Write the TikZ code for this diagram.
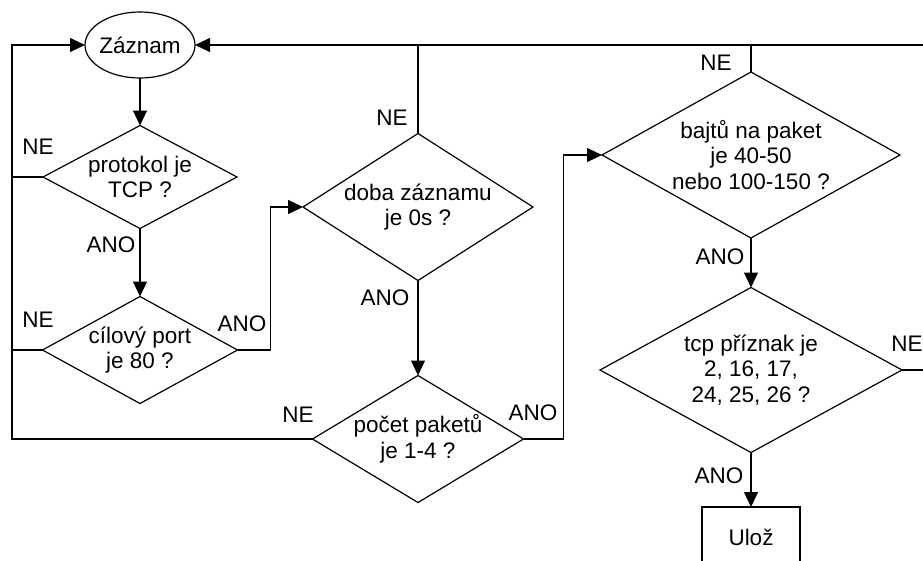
\documentclass[tikz,border=0pt]{standalone}
\usepackage{fontspec}
\setmainfont{Liberation Sans}
\usetikzlibrary{shapes.geometric,arrows.meta}
\begin{document}
\begin{tikzpicture}[x=1pt,y=-1pt, line width=1.2pt,
  font=\fontsize{22.5}{25.5}\selectfont,
  dec/.style={diamond, draw, aspect=1, inner sep=-20pt, outer sep=0pt, align=center},
  arr/.style={-{Triangle[length=15pt,width=14pt]}},
  lab/.style={inner sep=0pt, anchor=center}]
\useasboundingbox (0,0) rectangle (923,560);
\fill[white] (0,0) rectangle (923,560);
% nodes
\node[draw, ellipse, minimum width=110pt, minimum height=66pt, inner sep=-4pt, outer sep=0pt] (Z) at (140,45) {Záznam};
\node[dec, minimum width=194pt, minimum height=103pt] (D1) at (140,177) {protokol je\\TCP ?};
\node[dec, minimum width=195pt, minimum height=107pt] (D2) at (140,350) {cílový port\\je 80 ?};
\node[dec, minimum width=230pt, minimum height=147pt] (D3) at (418,207) {doba záznamu\\je 0s ?};
\node[dec, minimum width=211pt, minimum height=127pt] (D4) at (418,439) {počet paketů\\je 1-4 ?};
\node[dec, minimum width=298pt, minimum height=166pt] (D5) at (751,155) {bajtů na paket\\je 40-50\\nebo 100-150 ?};
\node[dec, minimum width=302pt, minimum height=165pt] (D6) at (751,370) {tcp příznak je\\2, 16, 17,\\24, 25, 26 ?};
\node[draw, rectangle, minimum width=98pt, minimum height=60pt, outer sep=0pt] (U) at (751,537) {Ulož};
\coordinate (L) at (12,45);
\coordinate (R) at (930,45);
% connectors
\draw[arr] (Z.south) -- (D1.north);
\draw[arr] (D1.south) -- (D2.north);
\draw[arr] (D2.east) -- ++(33,0) |- (D3.west);
\draw[arr] (D3.south) -- (D4.north);
\draw[arr] (D4.east) -- ++(40,0) |- (D5.west);
\draw[arr] (D5.south) -- (D6.north);
\draw[arr] (D6.south) -- (U.north);
\draw[arr] (D4.west) -- (D4.west -| L) -- (L) -- (Z.west);
\draw (D1.west) -- (D1.west -| L);
\draw (D2.west) -- (D2.west -| L);
\draw[arr] (D6.east) -- (D6.east -| R) -- (R) -- (Z.east);
\draw (D3.north) -- (D3.north |- R);
\draw (D5.north) -- (D5.north |- R);
% labels
\node[lab] (n1) at (38,147) {NE};
\node[lab] (a1) at (111,245) {ANO};
\node[lab] (n2) at (38,320) {NE};
\node[lab] (a2) at (242,324) {ANO};
\node[lab] (n3) at (392,118) {NE};
\node[lab] (a3) at (385,298) {ANO};
\node[lab] (n4) at (298,415) {NE};
\node[lab] (a4) at (533,413) {ANO};
\node[lab] (n5) at (716,63) {NE};
\node[lab] (a5) at (720,257) {ANO};
\node[lab] (n6) at (907,344) {NE};
\node[lab] (a6) at (719,476) {ANO};
\end{tikzpicture}
\end{document}
